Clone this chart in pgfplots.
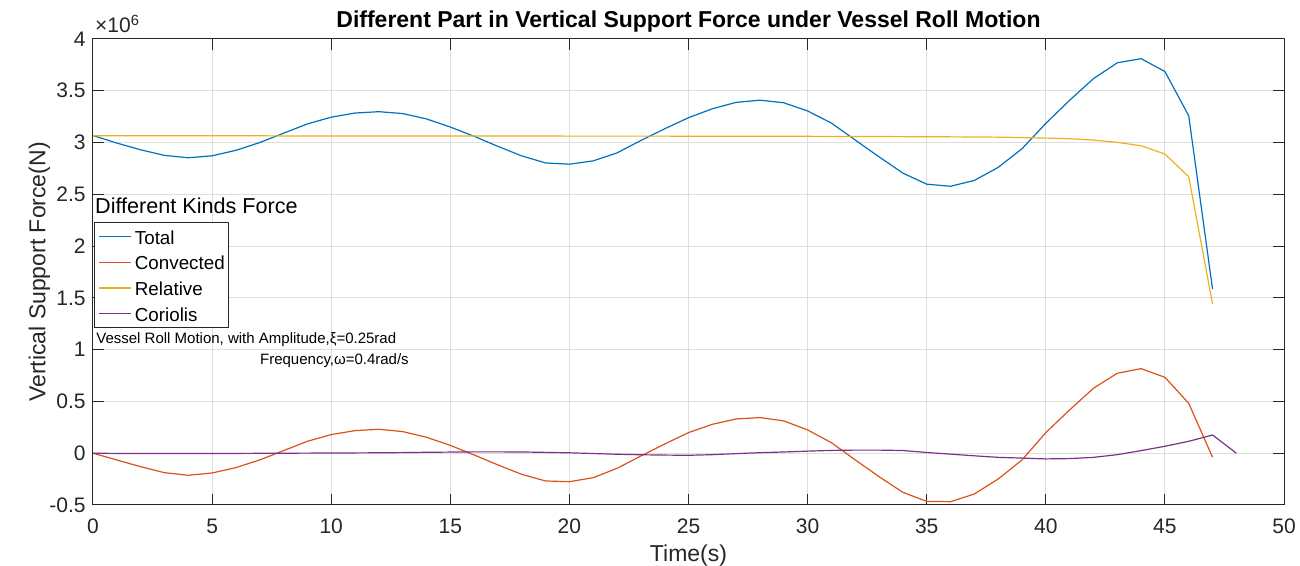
\documentclass[border=0pt]{standalone}
\usepackage{fontspec}
\setmainfont{Liberation Sans}
\usepackage{pgfplots}
\pgfplotsset{compat=1.18}
\usepackage{pgfplotstable}

\definecolor{mblue}{rgb}{0,0.447,0.741}
\definecolor{morange}{rgb}{0.850,0.325,0.098}
\definecolor{myellow}{rgb}{0.929,0.694,0.125}
\definecolor{mpurple}{rgb}{0.494,0.184,0.556}
\definecolor{axgray}{rgb}{0.15,0.15,0.15}
\definecolor{gridgray}{rgb}{0.87,0.87,0.87}

% Vertical support force components, in units of 10^6 N
\pgfplotstableread{
t  total  convected relative coriolis
0  3.068  0.000  3.066  0.000
1  2.995 -0.065  3.065 -0.002
2  2.930 -0.130  3.065 -0.003
3  2.876 -0.188  3.065 -0.003
4  2.853 -0.213  3.065 -0.003
5  2.872 -0.191  3.065 -0.003
6  2.925 -0.139  3.065 -0.002
7  3.000 -0.065  3.065 -0.001
8  3.090  0.025  3.064  0.000
9  3.180  0.115  3.064  0.001
10 3.245  0.180  3.064  0.002
11 3.285  0.218  3.064  0.003
12 3.298  0.231  3.064  0.004
13 3.280  0.209  3.064  0.006
14 3.228  0.154  3.063  0.009
15 3.150  0.076  3.063  0.011
16 3.060 -0.017  3.063  0.013
17 2.963 -0.113  3.063  0.013
18 2.871 -0.204  3.063  0.012
19 2.803 -0.268  3.063  0.008
20 2.791 -0.275  3.062  0.004
21 2.823 -0.236  3.062 -0.003
22 2.900 -0.146  3.062 -0.010
23 3.020 -0.027  3.062 -0.015
24 3.133  0.089  3.062 -0.018
25 3.240  0.199  3.061 -0.020
26 3.326  0.279  3.061 -0.014
27 3.388  0.331  3.061 -0.004
28 3.409  0.344  3.060  0.005
29 3.384  0.312  3.060  0.012
30 3.305  0.225  3.060  0.020
31 3.188  0.102  3.059  0.027
32 3.024 -0.065  3.059  0.030
33 2.862 -0.226  3.058  0.030
34 2.705 -0.378  3.057  0.026
35 2.598 -0.465  3.056  0.007
36 2.578 -0.468  3.055 -0.009
37 2.634 -0.394  3.054 -0.025
38 2.760 -0.249  3.052 -0.040
39 2.940 -0.065  3.048 -0.047
40 3.185  0.199  3.043 -0.055
41 3.408  0.418  3.037 -0.052
42 3.617  0.627  3.024 -0.040
43 3.770  0.772  3.002 -0.014
44 3.810  0.817  2.969  0.025
45 3.686  0.733  2.889  0.067
46 3.258  0.482  2.670  0.115
47 1.585 -0.039  1.440  0.176
48 nan    nan    nan    0.000
}\forcedata

\begin{document}
\begin{tikzpicture}
\begin{axis}[
  scale only axis,
  width=595.5pt, height=233pt,
  xmin=0, xmax=50, ymin=-0.5, ymax=4,
  clip mode=individual,
  xtick={0,5,...,50},
  ytick={-0.5,0,0.5,1,1.5,2,2.5,3,3.5,4},
  grid=major,
  major grid style={gridgray, line width=0.5pt},
  axis line style={axgray, line width=0.5pt},
  tick style={axgray, line width=0.5pt},
  tick align=inside,
  major tick length=5.5pt,
  /pgf/number format/assume math mode=true,
  ticklabel style={font=\fontsize{10.5}{12}\selectfont, text=axgray},
  xticklabel style={anchor=base, yshift=-14.5pt},
  yticklabel style={/pgf/number format/fixed, inner sep=3.5pt},
  xlabel={Time(s)},
  ylabel={Vertical Support Force(N)},
  label style={font=\fontsize{11.5}{13}\selectfont, text=axgray},
  xlabel style={at={(axis description cs:0.5,-0.1223)}, anchor=base},
  ylabel style={at={(axis description cs:-0.040,0.5)}, anchor=base, rotate=0},
  legend style={
    at={(rel axis cs:0.001,0.607)}, anchor=north west,
    draw=axgray, line width=0.5pt,
    font=\fontsize{9.4}{11}\selectfont,
    inner xsep=2pt, inner ysep=2.2pt,
    row sep=3.35pt,
    nodes={inner sep=0pt, text height=8.5pt, text depth=1pt},
  },
  legend cell align=left,
  legend image code/.code={\draw[#1, line width=0.6pt] (0pt,0pt) -- (16pt,0pt);},
  every axis plot/.append style={line width=0.6pt},
]
\addplot[mblue] table[x=t, y=total] {\forcedata};
\addplot[morange] table[x=t, y=convected] {\forcedata};
\addplot[myellow] table[x=t, y=relative] {\forcedata};
\addplot[mpurple] table[x=t, y=coriolis] {\forcedata};
\legend{\hspace{1.5pt}Total,\hspace{1.5pt}Convected,\hspace{1.5pt}Relative,\hspace{1.5pt}Coriolis}

\node[anchor=base west, inner sep=0pt, font=\fontsize{10.8}{12}\selectfont, text=black]
  at (rel axis cs:0.0015,0.6255) {Different Kinds Force};
\node[anchor=base west, inner sep=0pt, font=\fontsize{7.5}{9}\selectfont, text=black]
  at (rel axis cs:0.0025,0.347) {Vessel Roll Motion, with Amplitude,ξ=0.25rad};
\node[anchor=base west, inner sep=0pt, font=\fontsize{7.5}{9}\selectfont, text=black]
  at (rel axis cs:0.140,0.302) {Frequency,ω=0.4rad/s};
\node[anchor=base west, inner sep=0pt, font=\fontsize{10.5}{12}\selectfont, text=axgray]
  at (rel axis cs:0.0015,1) [yshift=3pt] {×10\textsuperscript{6}};
\node[anchor=base, inner sep=0pt, font=\bfseries\fontsize{11.5}{13}\selectfont, text=black]
  at (rel axis cs:0.5,1) [yshift=5.5pt] {Different Part in Vertical Support Force under Vessel Roll Motion};
\end{axis}
\pgfresetboundingbox
\path[use as bounding box] (-46.5pt,-30.5pt) rectangle (603.5pt,252.5pt);
\end{tikzpicture}
\end{document}
